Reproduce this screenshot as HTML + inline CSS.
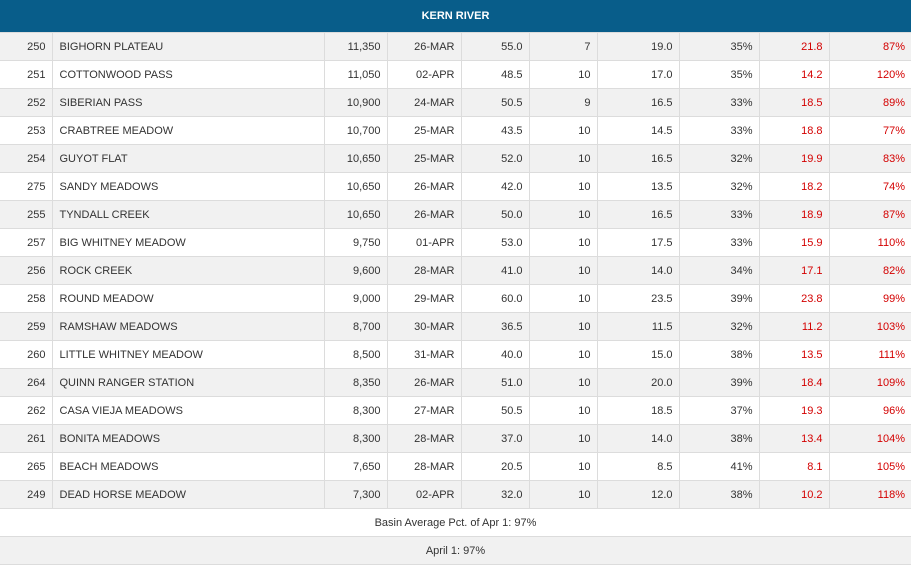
<!DOCTYPE html>
<html><head><style>
body{margin:0;background:#fff;font-family:"Liberation Sans",sans-serif;font-size:11px;color:#333}
.h{height:32px;background:#085d8a;color:#fff;font-weight:bold;text-align:center;line-height:32px;font-size:11px}
table{border-collapse:collapse;table-layout:fixed;width:911px}
td{height:27px;border:1px solid #dcdcdc;padding:0 6px;text-align:right;white-space:nowrap;overflow:hidden}
tr:nth-child(odd) td{background:#f1f1f1}
td.n{text-align:left;padding-left:7px}
td.r{color:#d40000}
tr td:first-child{border-left:none}
tr td:last-child{border-right:none}
td.c{text-align:center}
</style></head><body>
<div class="h">KERN RIVER</div>
<table>
<colgroup><col style="width:52px"><col style="width:272px"><col style="width:63px"><col style="width:74px"><col style="width:68px"><col style="width:68px"><col style="width:82px"><col style="width:80px"><col style="width:70px"><col style="width:82px"></colgroup>
<tr><td>250</td><td class="n">BIGHORN PLATEAU</td><td>11,350</td><td>26-MAR</td><td>55.0</td><td>7</td><td>19.0</td><td>35%</td><td class="r">21.8</td><td class="r">87%</td></tr>
<tr><td>251</td><td class="n">COTTONWOOD PASS</td><td>11,050</td><td>02-APR</td><td>48.5</td><td>10</td><td>17.0</td><td>35%</td><td class="r">14.2</td><td class="r">120%</td></tr>
<tr><td>252</td><td class="n">SIBERIAN PASS</td><td>10,900</td><td>24-MAR</td><td>50.5</td><td>9</td><td>16.5</td><td>33%</td><td class="r">18.5</td><td class="r">89%</td></tr>
<tr><td>253</td><td class="n">CRABTREE MEADOW</td><td>10,700</td><td>25-MAR</td><td>43.5</td><td>10</td><td>14.5</td><td>33%</td><td class="r">18.8</td><td class="r">77%</td></tr>
<tr><td>254</td><td class="n">GUYOT FLAT</td><td>10,650</td><td>25-MAR</td><td>52.0</td><td>10</td><td>16.5</td><td>32%</td><td class="r">19.9</td><td class="r">83%</td></tr>
<tr><td>275</td><td class="n">SANDY MEADOWS</td><td>10,650</td><td>26-MAR</td><td>42.0</td><td>10</td><td>13.5</td><td>32%</td><td class="r">18.2</td><td class="r">74%</td></tr>
<tr><td>255</td><td class="n">TYNDALL CREEK</td><td>10,650</td><td>26-MAR</td><td>50.0</td><td>10</td><td>16.5</td><td>33%</td><td class="r">18.9</td><td class="r">87%</td></tr>
<tr><td>257</td><td class="n">BIG WHITNEY MEADOW</td><td>9,750</td><td>01-APR</td><td>53.0</td><td>10</td><td>17.5</td><td>33%</td><td class="r">15.9</td><td class="r">110%</td></tr>
<tr><td>256</td><td class="n">ROCK CREEK</td><td>9,600</td><td>28-MAR</td><td>41.0</td><td>10</td><td>14.0</td><td>34%</td><td class="r">17.1</td><td class="r">82%</td></tr>
<tr><td>258</td><td class="n">ROUND MEADOW</td><td>9,000</td><td>29-MAR</td><td>60.0</td><td>10</td><td>23.5</td><td>39%</td><td class="r">23.8</td><td class="r">99%</td></tr>
<tr><td>259</td><td class="n">RAMSHAW MEADOWS</td><td>8,700</td><td>30-MAR</td><td>36.5</td><td>10</td><td>11.5</td><td>32%</td><td class="r">11.2</td><td class="r">103%</td></tr>
<tr><td>260</td><td class="n">LITTLE WHITNEY MEADOW</td><td>8,500</td><td>31-MAR</td><td>40.0</td><td>10</td><td>15.0</td><td>38%</td><td class="r">13.5</td><td class="r">111%</td></tr>
<tr><td>264</td><td class="n">QUINN RANGER STATION</td><td>8,350</td><td>26-MAR</td><td>51.0</td><td>10</td><td>20.0</td><td>39%</td><td class="r">18.4</td><td class="r">109%</td></tr>
<tr><td>262</td><td class="n">CASA VIEJA MEADOWS</td><td>8,300</td><td>27-MAR</td><td>50.5</td><td>10</td><td>18.5</td><td>37%</td><td class="r">19.3</td><td class="r">96%</td></tr>
<tr><td>261</td><td class="n">BONITA MEADOWS</td><td>8,300</td><td>28-MAR</td><td>37.0</td><td>10</td><td>14.0</td><td>38%</td><td class="r">13.4</td><td class="r">104%</td></tr>
<tr><td>265</td><td class="n">BEACH MEADOWS</td><td>7,650</td><td>28-MAR</td><td>20.5</td><td>10</td><td>8.5</td><td>41%</td><td class="r">8.1</td><td class="r">105%</td></tr>
<tr><td>249</td><td class="n">DEAD HORSE MEADOW</td><td>7,300</td><td>02-APR</td><td>32.0</td><td>10</td><td>12.0</td><td>38%</td><td class="r">10.2</td><td class="r">118%</td></tr>
<tr><td colspan="10" class="c" style="background:#fff">Basin Average Pct. of Apr 1: 97%</td></tr>
<tr><td colspan="10" class="c" style="background:#f1f1f1">April 1: 97%</td></tr>
</table>
</body></html>
